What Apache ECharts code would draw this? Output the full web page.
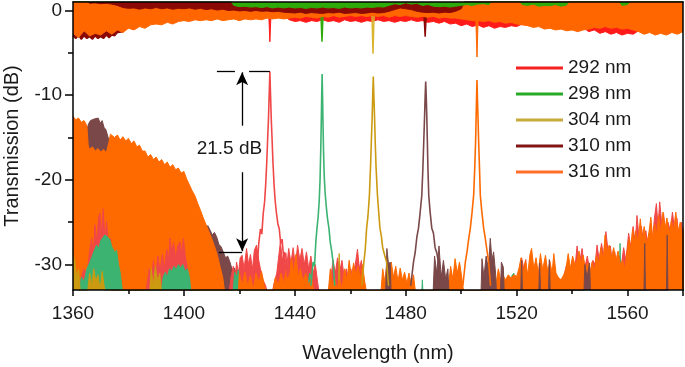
<!DOCTYPE html>
<html>
<head>
<meta charset="utf-8">
<script src="https://cdn.jsdelivr.net/npm/echarts@6/dist/echarts.min.js"></script>
<style>
  html, body { margin: 0; padding: 0; background: #fff; }
  #main { width: 685px; height: 367px; }
</style>
</head>
<body>
<div id="main"></div>
<script>
// legend names (ring diameters)
var names = ['292 nm', '298 nm', '304 nm', '310 nm', '316 nm'];

// ---- through port (top), lower edge of the noisy trace, [nm, dB] ----
var redThru = [[1360,-0.5],[1430.6,-0.5],[1431.0,-3.7],[1431.4,-0.5],[1436,-0.6],[1438,-1.1],[1440,-1.3],[1442,-1.2],[1444,-1.4],[1446,-1.2],[1448,-1.3],[1450,-1.1],[1452,-1.3],[1454,-1.2],[1456,-1.4],[1458,-1.1],[1460,-1.3],[1462,-1.2],[1464,-1.4],[1466,-1.2],[1468,-1.3],[1470,-1.1],[1472,-1.3],[1474,-1.2],[1476,-1.4],[1478,-1.2],[1480,-1.3],[1482,-1.1],[1484,-1.3],[1486,-1.2],[1488,-1.4],[1490,-1.3],[1492,-1.5],[1494,-1.3],[1496,-1.6],[1498,-1.5],[1500,-1.8],[1502,-1.6],[1504,-1.9],[1506,-1.7],[1508,-2.0],[1510,-1.8],[1512,-2.1],[1514,-1.9],[1516,-2.0],[1518,-1.8],[1520,-1.9],[1522,-1.6],[1544,-2.0],[1546,-2.5],[1548,-2.3],[1550,-2.7],[1552,-2.5],[1554,-2.8],[1556,-2.6],[1558,-2.9],[1560,-2.7],[1562,-2.8],[1564,-2.4],[1566,-2.0],[1580,-2.0]];
var greenThruDip = [[1360,-0.3],[1449.4,-0.3],[1449.8,-3.7],[1450.2,-0.3],[1580,-0.3]];
var goldThruDip = [[1360,-0.3],[1467.8,-0.3],[1468.2,-5.1],[1468.6,-0.3],[1580,-0.3]];
var darkThruLow = [[1360,-3.0],[1361,-3.3],[1362,-2.9],[1363,-3.4],[1364,-3.0],[1365,-3.3],[1366,-3.1],[1367,-3.4],[1368,-3.0],[1369,-3.3],[1370,-3.1],[1371,-3.3],[1372,-2.9],[1373,-3.2],[1374,-2.9],[1375,-3.0],[1376,-2.6],[1378,-2.5],[1380,-0.5],[1486.6,-0.5],[1487.0,-3.1],[1487.4,-0.5],[1580,-0.5]];
var orangeThru = [[1360,-2.7],[1362,-3.2],[1364,-2.4],[1366,-3.0],[1368,-2.7],[1370,-2.9],[1372,-2.4],[1374,-2.8],[1376,-2.3],[1378,-2.6],[1380,-2.1],[1382,-2.3],[1384,-1.9],[1386,-2.1],[1388,-1.7],[1390,-1.6],[1392,-1.7],[1394,-1.4],[1396,-1.6],[1398,-1.3],[1400,-1.2],[1402,-1.3],[1404,-1.1],[1406,-1.2],[1408,-1.1],[1410,-1.2],[1412,-1.0],[1414,-1.2],[1416,-1.1],[1418,-1.0],[1420,-1.2],[1422,-1.0],[1424,-1.1],[1426,-1.0],[1428,-1.1],[1430,-0.9],[1432,-1.0],[1434,-0.9],[1436,-1.0],[1438,-0.9],[1440,-0.8],[1442,-0.9],[1444,-0.7],[1446,-0.8],[1448,-0.9],[1450,-0.7],[1452,-0.8],[1454,-0.6],[1456,-0.8],[1458,-0.7],[1460,-0.6],[1462,-0.7],[1464,-0.6],[1466,-0.7],[1468,-0.6],[1470,-0.7],[1472,-0.6],[1474,-0.8],[1476,-0.6],[1478,-0.7],[1480,-0.6],[1482,-0.7],[1484,-0.8],[1486,-0.7],[1488,-0.8],[1490,-0.7],[1492,-0.9],[1494,-0.8],[1496,-0.9],[1498,-0.9],[1500,-1.0],[1502,-1.1],[1504,-1.2],[1505.3,-1.2],[1505.7,-5.5],[1506.1,-1.2],[1508,-1.3],[1510,-1.2],[1512,-1.4],[1514,-1.3],[1516,-1.5],[1518,-1.4],[1520,-1.6],[1522,-1.7],[1524,-1.8],[1526,-2.0],[1528,-1.9],[1530,-2.2],[1532,-2.1],[1534,-2.3],[1536,-2.2],[1538,-2.4],[1540,-2.3],[1542,-2.5],[1544,-2.3],[1546,-2.2],[1548,-2.0],[1550,-2.1],[1552,-1.9],[1554,-2.1],[1556,-2.0],[1558,-2.2],[1560,-2.1],[1562,-2.3],[1564,-2.5],[1566,-2.8],[1568,-2.6],[1570,-2.9],[1572,-2.7],[1574,-2.9],[1576,-2.6],[1578,-2.8],[1580,-2.5]];
var darkThruTop = [[1360,1.5],[1364,1.5],[1366,0.85],[1368,0.9],[1370,0.8],[1372,0.85],[1374,0.75],[1376,0.6],[1378,0.35],[1380,0.25],[1382,0.3],[1384,0.15],[1386,0.3],[1388,0.2],[1390,0.35],[1392,0.2],[1394,0.3],[1396,0.15],[1398,0.25],[1400,0.2],[1402,0.3],[1404,0.15],[1406,0.25],[1408,0.1],[1410,0.2],[1412,0.05],[1414,0.15],[1416,0.0],[1418,0.05],[1420,-0.05],[1422,0.0],[1424,-0.1],[1426,0.0],[1428,-0.1],[1430,-0.05],[1432,-0.15],[1434,-0.1],[1436,-0.2],[1438,-0.25],[1440,-0.3],[1442,-0.2],[1444,-0.35],[1446,-0.25],[1448,-0.3],[1450,-0.35],[1452,-0.25],[1454,-0.3],[1456,-0.2],[1458,-0.35],[1460,-0.3],[1462,-0.25],[1464,-0.35],[1466,-0.3],[1468,-0.2],[1470,-0.3],[1472,-0.25],[1474,-0.1],[1476,0.1],[1478,0.3],[1480,0.2],[1482,0.1],[1484,-0.1],[1486,-0.2],[1488,-0.25],[1490,-0.2],[1492,-0.3],[1494,-0.2],[1496,-0.25],[1498,-0.1],[1500,0.2],[1502,1.5],[1580,1.5]];
var greenThruTop = [[1360,1.5],[1416,1.5],[1418,0.6],[1420,0.45],[1422,0.5],[1424,0.4],[1426,0.45],[1428,0.35],[1430,0.45],[1432,0.3],[1434,0.4],[1436,0.3],[1438,0.4],[1440,0.3],[1442,0.35],[1444,0.25],[1446,0.35],[1448,0.3],[1450,0.4],[1452,0.3],[1454,0.35],[1456,0.25],[1458,0.4],[1460,0.3],[1462,0.35],[1464,0.3],[1466,0.4],[1468,0.35],[1470,0.45],[1472,0.4],[1474,0.6],[1476,0.8],[1478,0.7],[1480,0.9],[1482,0.75],[1484,0.85],[1486,0.6],[1488,0.7],[1490,0.5],[1492,0.45],[1494,0.5],[1496,0.4],[1498,0.5],[1500,0.6],[1502,0.7],[1504,0.6],[1506,0.75],[1508,0.8],[1510,0.7],[1512,1.5],[1520,1.5],[1522,0.7],[1524,0.6],[1526,0.75],[1528,0.5],[1530,0.6],[1532,0.55],[1534,0.7],[1536,0.5],[1538,0.65],[1540,1.5],[1556,1.5],[1558,0.6],[1560,0.7],[1562,1.5],[1580,1.5]];

// ---- drop port (bottom), [nm, dB] ----
var brownLeft = [[1364.5,-34],[1364.9,-14.2],[1365.6,-13.4],[1366.3,-13.0],[1367,-13.2],[1367.7,-12.8],[1368.4,-12.9],[1369.1,-12.7],[1369.8,-13.3],[1370.5,-13.0],[1371.2,-13.8],[1371.9,-14.1],[1372.6,-14.9],[1373.3,-15.6],[1374,-34],[1405.8,-34],[1406.3,-25.2],[1407,-25.35],[1407.8,-25.8],[1408.6,-25.4],[1409.4,-25.9],[1410.2,-26.5],[1411,-26.2],[1411.8,-26.7],[1412.6,-27.6],[1413.4,-27.9],[1414.2,-28.5],[1415,-29.2],[1415.8,-29],[1416.6,-29.7],[1417.4,-30.6],[1418.2,-30.4],[1419,-31.2],[1419.8,-31.8],[1420.6,-32.1],[1421.4,-32.4],[1422.2,-33.2],[1423,-34]];
var orangeLeft = [[1360,-12.5],[1361,-12.9],[1362,-12.7],[1363,-13.2],[1364,-13.0],[1365,-13.6],[1365.5,-16.0],[1366,-16.4],[1367,-16.1],[1368,-16.6],[1369,-16.3],[1370,-16.7],[1371,-16.4],[1372,-16.8],[1373,-15.5],[1373.5,-14.6],[1374,-14.4],[1375,-15.0],[1376,-14.7],[1377,-15.3],[1378,-14.9],[1379,-15.4],[1380,-15.1],[1381,-15.7],[1382,-15.4],[1383,-16.1],[1384,-15.9],[1385,-16.6],[1386,-16.6],[1387,-17.3],[1388,-17.0],[1389,-17.6],[1390,-17.3],[1391,-17.9],[1392,-17.6],[1393,-18.2],[1394,-17.9],[1395,-18.5],[1396,-18.2],[1397,-18.8],[1398,-18.6],[1399,-19.2],[1400,-19.0],[1401,-19.9],[1402,-20.6],[1403,-21.3],[1404,-21.9],[1405,-22.8],[1406,-23.6],[1407,-24.5],[1408,-25.3],[1409,-26.1],[1410,-26.9],[1411,-27.8],[1412,-28.8],[1413,-30.2],[1414,-31.5],[1415,-34]];
var redNoise = [[1362,-34],[1363,-31.5],[1364,-30.5],[1365,-31.2],[1366,-28.5],[1366.7,-26.9],[1367.3,-29],[1367.9,-25.3],[1368.6,-27.5],[1369.2,-24.5],[1369.7,-23.9],[1370.2,-26.5],[1370.9,-23.4],[1371.5,-27],[1372.1,-24.9],[1372.8,-27.5],[1373.5,-26.9],[1374.2,-29],[1375,-30.5],[1376,-34],
  [1386,-34],[1387.5,-30.5],[1388.3,-31.8],[1389,-29.5],[1389.8,-31.5],[1390.6,-29],[1391.4,-30.8],[1392.2,-28.8],[1393,-30.5],[1393.8,-28.2],[1394.5,-29.5],[1395,-26.9],[1395.6,-28.5],[1396.3,-27.4],[1397,-29.2],[1397.8,-27.8],[1398.6,-27.3],[1399.2,-28.8],[1399.8,-26.9],[1400.5,-29],[1401.3,-30.5],[1402,-32],[1403,-34],
  [1416,-34],[1417,-31.5],[1417.8,-30.2],[1418.5,-31.5],[1419,-29.7],[1419.7,-31],[1420.3,-29.2],[1421,-28.9],[1421.7,-30.5],[1422.6,-28.1],[1423.3,-30],[1424,-28.8],[1424.7,-30.6],[1425.4,-28.3],[1426.2,-27.7],[1427,-29.5],[1427.6,-30.5],[1428.5,-31.8],[1429.5,-32.5],[1430.5,-34],[1431.5,-34],[1432.5,-32.2],[1433.5,-31],[1434.2,-29],[1434.8,-27.3],[1435.5,-29.5],[1436.2,-28.5],[1437,-30.5],[1437.8,-28.1],[1438.6,-29.8],[1439.4,-28],[1440.2,-30.2],[1441,-27.7],[1441.8,-29.5],[1442.6,-28.1],[1443.4,-30],[1444.2,-28.5],[1445,-30.5],[1445.8,-29],[1446.6,-31],[1447.4,-30],[1448.2,-32],[1449,-34],
  [1452,-34],[1453,-31.5],[1453.8,-29.5],[1454.6,-31],[1455.4,-29.2],[1456.2,-30.8],[1457,-29.5],[1457.8,-31.5],[1458.6,-30.5],[1459.4,-32],[1460.2,-30.5],[1461,-31.8],[1461.8,-30],[1462.6,-28.2],[1463.3,-30.5],[1464,-29.5],[1464.8,-32],[1465.5,-34],
  [1520.8,-34],[1521.8,-29.2],[1522.6,-30.5],[1523.3,-29.4],[1524,-34],
  [1536,-34],[1537,-31.5],[1538,-30],[1539,-31.5],[1540,-29.5],[1541,-30.5],[1541.8,-27.8],[1542.6,-30],[1543.6,-28.1],[1544.5,-30.5],[1545.5,-29],[1546.5,-31],[1547.5,-29.5],[1548.3,-30],[1549,-27.7],[1549.8,-29.5],[1550.6,-27.5],[1551.4,-29],[1552.2,-26.1],[1553,-28.5],[1553.8,-27.8],[1554.6,-30],[1555.4,-28.5],[1556.2,-30.5],[1557,-29],[1557.8,-30],[1558.6,-28],[1559.4,-29.5],[1560.4,-26.3],[1561.2,-28],[1562,-25.5],[1562.8,-27.5],[1563.4,-24.2],[1564.2,-27],[1565,-25.5],[1565.8,-27.5],[1566.6,-26],[1567.4,-28],[1568.2,-26.5],[1569,-27],[1569.7,-24.5],[1570.4,-22.8],[1571,-25.5],[1571.6,-22.6],[1572.3,-25],[1573,-24],[1573.8,-26.5],[1574.6,-25],[1575.4,-26],[1576.2,-23.8],[1577,-26],[1577.8,-24.5],[1578.6,-27],[1579.4,-25],[1580.2,-26.9]];
var greenNoise = [[1362,-34],[1363,-31.5],[1364,-32],[1365,-30.5],[1366,-29.8],[1366.7,-29.2],[1367.5,-28.5],[1368.5,-27.7],[1369.3,-28.1],[1370,-27.2],[1370.8,-26.8],[1371.5,-26.5],[1372,-26.3],[1372.7,-26.8],[1373.3,-27.1],[1374,-27.9],[1374.5,-28.1],[1375.1,-28.6],[1375.7,-28.3],[1376.4,-30],[1377,-30.9],[1377.6,-32.5],[1378.2,-34],
  [1391.5,-34],[1392.5,-31.5],[1393.3,-30.9],[1394,-31.5],[1394.8,-30.5],[1395.6,-30.8],[1396.4,-30.2],[1397.2,-30.6],[1398,-30],[1398.8,-30.4],[1399.6,-30],[1400.4,-30.8],[1401.2,-30.5],[1402,-31.5],[1402.8,-34],
  [1417.5,-34],[1418.3,-30.9],[1419,-31.5],[1419.6,-30.6],[1420.3,-34],
  [1444.5,-34],[1445.3,-31],[1446,-31.5],[1446.5,-34],
  [1476.3,-34],[1476.7,-31.3],[1477.1,-34],[1485.7,-34],[1486,-31.8],[1486.3,-34],
  [1517.8,-34],[1518.3,-31.3],[1519,-31],[1519.5,-34],[1537.6,-34],[1538,-30],[1538.4,-34],
  [1545,-34],[1545.3,-30.5],[1545.6,-34],[1556.9,-34],[1557.3,-27.5],[1557.7,-34],
  [1567.2,-34],[1567.6,-26.3],[1568,-34]];
var goldNoise = [[1360,-28.7],[1360.7,-29.7],[1361.3,-31.5],[1362,-30.5],[1362.7,-33.5],[1365,-34],[1366,-31],[1366.8,-32.5],[1367.5,-30.5],[1368.2,-32],[1369,-31.2],[1369.8,-33],[1370.5,-30.8],[1371.2,-32.5],[1372,-34],
  [1387.5,-34],[1388.2,-30.5],[1389,-32.5],[1389.7,-30.2],[1390.5,-32],[1391.3,-31],[1392,-33.5],[1393,-34],
  [1455.6,-34],[1456,-28.7],[1456.4,-34],[1539.1,-34],[1539.5,-31],[1539.9,-34]];
var orangeNoise = [[1419.5,-34],[1420,-31],[1421,-32.5],[1422,-30.9],[1423,-32.5],[1424,-31.3],[1425,-33],[1426,-31],[1427,-32.2],[1428,-30.8],[1429,-32.5],[1430,-33.5],[1432,-33.5],[1433,-31.5],[1434,-32.5],[1435,-31],[1436,-32.2],[1437,-30.5],[1438,-31.8],[1438.8,-29.2],[1439.6,-31],[1440.4,-28.8],[1441.2,-31.5],[1442,-30.5],[1443,-32],[1444,-31],[1445,-32.5],[1446,-31.5],[1447,-33.5],
  [1452,-33.5],[1452.8,-30.5],[1453.6,-32.5],[1454.4,-31.5],[1455.2,-33],[1456,-31.8],[1457,-32.8],[1458,-30.5],[1458.8,-32],[1459.6,-29.5],[1460.4,-31.5],[1461.2,-29.8],[1462,-31.2],[1462.8,-30.2],[1463.6,-31.7],[1464.4,-30],[1465.2,-32],[1466,-33.5],
  [1471,-33.5],[1471.7,-30.5],[1472.4,-32],[1473.2,-30],[1474,-31.5],[1474.8,-29.7],[1475.6,-31.5],[1476.4,-30.2],[1477.2,-32],[1478,-30.4],[1478.8,-31.8],[1479.6,-30.9],[1480.4,-32.2],[1481.2,-31],[1482,-32.5],[1482.8,-31.2],[1483.6,-33.5],
  [1490.5,-33.5],[1491.3,-32],[1492.2,-32.8],[1493,-31.6],[1493.8,-32.5],[1494.6,-31.5],[1495.4,-32.5],[1496.2,-30.2],[1497,-31.7],[1497.8,-29.3],[1498.6,-31],[1499.4,-29.7],[1500.2,-31.5],[1501,-33.5],
  [1511,-33.5],[1511.8,-31],[1512.6,-32.2],[1513.4,-30.5],[1514.2,-31.8],[1515,-31.2],[1516,-31.8],[1517,-31.2],[1518,-31.6],[1519,-31.2],[1520,-31.4],[1520.8,-30.5],[1521.6,-29.2],[1522.4,-31],[1523.2,-29.5],[1524,-31.2],[1524.8,-28.8],[1525.4,-28.1],[1526.2,-30.5],[1527,-29.2],[1527.8,-31],[1528.6,-28.7],[1529.4,-30.6],[1530.4,-28.9],[1531.2,-30.8],[1532,-29.6],[1532.8,-31],[1533.4,-28.7],[1534.2,-31],[1535,-31.5],[1536,-31.8],[1537,-31.2],[1537.8,-30.5],[1538.6,-28.7],[1539.4,-30.5],[1540.2,-29],[1541,-30],[1541.8,-29.5],[1542.5,-28.4],[1543.2,-30],[1544,-28.9],[1544.8,-30.5],[1545.6,-29.8],[1546.4,-31.2],[1547.2,-29.7],[1548,-30.8],[1548.8,-28.9],[1549.6,-29.8],[1550.4,-28],[1551.2,-29.5],[1551.9,-26.5],[1552.6,-28.5],[1553.4,-27.7],[1554.2,-29.2],[1555,-28],[1555.8,-29.5],[1556.6,-28.4],[1557.4,-30],[1558.2,-29.5],[1559,-30.5],[1559.8,-28.5],[1560.6,-27],[1561.2,-28.2],[1561.8,-25.8],[1562.4,-27.5],[1563,-26],[1563.8,-27.5],[1564.6,-24.6],[1565.3,-27],[1566,-25.5],[1566.8,-27.5],[1567.6,-26.5],[1568.4,-24.4],[1569.1,-27],[1569.8,-25.2],[1570.5,-26.5],[1571.2,-24.2],[1572,-26.2],[1572.8,-23.8],[1573.5,-25.8],[1574.2,-24.5],[1575,-26.5],[1575.8,-24.8],[1576.6,-26],[1577.4,-23.8],[1578.2,-26.2],[1579,-25],[1579.8,-26.9],[1580.5,-25.5]];
var brownRight = [[1472.7,-34],[1473.2,-28.1],[1473.8,-30],[1474.4,-29.7],[1474.8,-34],
  [1489.8,-34],[1490.4,-29],[1491.2,-31],[1492,-27.8],[1492.8,-31.5],[1493.6,-29.5],[1494.4,-31.7],[1495.2,-30.5],[1495.7,-34],
  [1507.1,-34],[1507.5,-29.3],[1508.2,-31.5],[1509,-29],[1509.8,-30.5],[1510.5,-26.9],[1511.1,-29.5],[1511.7,-28.5],[1512.4,-31],[1512.8,-34],
  [1514.1,-34],[1514.5,-29.7],[1515.2,-30.3],[1515.6,-34],[1521.4,-34],[1521.8,-29.5],[1522.2,-34],
  [1527.9,-34],[1528.3,-29.8],[1528.7,-34],[1531.4,-34],[1531.8,-29.4],[1532.2,-34],
  [1544.2,-34],[1544.6,-30],[1545.4,-31.5],[1546.3,-29.8],[1546.7,-34],
  [1565.9,-34],[1566.2,-27.5],[1566.5,-34],[1574,-34],[1574.3,-26.5],[1574.6,-34]];

// resonance peaks in the drop port
var redPeak = [[1425,-31.5],[1425.8,-29.8],[1426.4,-30.4],[1427,-27.5],[1427.6,-25.8],[1428.1,-26.4],[1428.6,-24],[1429.1,-22.6],[1429.5,-20.5],[1429.9,-17.8],[1430.2,-15.2],[1430.5,-12.8],[1430.75,-10],[1431,-7.2],[1431.25,-10],[1431.5,-12.8],[1431.8,-15.2],[1432.1,-17.8],[1432.5,-20.5],[1432.9,-22.4],[1433.4,-24],[1433.9,-25.2],[1434.4,-25.8],[1434.9,-27.5],[1435.4,-27],[1436,-29.3],[1436.7,-28.6],[1437.4,-31.5]];
var greenPeak = [[1445.8,-32.5],[1446.6,-29.7],[1447.1,-30.2],[1447.6,-27.2],[1448,-25.7],[1448.4,-24.4],[1448.8,-22.5],[1449.1,-20],[1449.35,-16.5],[1449.55,-13],[1449.7,-10],[1449.85,-7.5],[1450.0,-10],[1450.15,-13],[1450.35,-16.5],[1450.6,-19.5],[1450.9,-21.4],[1451.3,-23],[1451.8,-24.6],[1452.3,-25.7],[1452.8,-27.4],[1453.3,-28.4],[1453.8,-29.7],[1454.4,-32.5]];
var goldPeak = [[1464.2,-32.5],[1464.9,-29.7],[1465.4,-28.2],[1465.9,-25.7],[1466.4,-24.2],[1466.9,-21.8],[1467.3,-18.5],[1467.6,-15.5],[1467.9,-12.5],[1468.1,-10],[1468.3,-7.8],[1468.5,-10],[1468.75,-12.5],[1469,-15.5],[1469.3,-18.5],[1469.8,-21.8],[1470.2,-23.6],[1470.7,-25.7],[1471.2,-26.6],[1471.7,-28],[1472.4,-28.9],[1473.1,-29.7],[1473.8,-32.5]];
var brownPeak = [[1481.8,-32.5],[1482.8,-29.7],[1483.4,-28.6],[1484,-26.8],[1484.6,-25.7],[1485.1,-24.2],[1485.8,-21.8],[1486.2,-18.5],[1486.5,-15.5],[1486.8,-12.5],[1487,-10.2],[1487.2,-8.4],[1487.4,-10.2],[1487.6,-12.5],[1487.8,-15.5],[1488,-18.5],[1488.3,-21.8],[1488.8,-23.8],[1489.4,-25.7],[1490,-26.3],[1490.6,-28],[1491.2,-28.6],[1491.8,-29.7],[1492.6,-32.5]];
var orangePeak = [[1500.6,-32.5],[1501.5,-29.7],[1502.1,-28.5],[1502.7,-27],[1503.3,-25.7],[1503.9,-23.9],[1504.5,-21.8],[1504.9,-18.5],[1505.2,-15.5],[1505.4,-12.5],[1505.55,-10.2],[1505.7,-8.2],[1505.85,-10.2],[1506.05,-12.5],[1506.3,-15.5],[1506.6,-18.5],[1506.9,-21.8],[1507.4,-23.6],[1508.1,-25.7],[1508.6,-26.7],[1509.2,-28.1],[1509.9,-29.7],[1510.6,-32.5]];

var yLabels = [-30, -20, -10, 0];
var yMinor = [-25, -15, -5];

var legendColors = ['#f52020', '#28aa28', '#c8aa3c', '#821414', '#ff6e28'];
var thruColors = ['#ff1a1a', '#2eaa0a', '#d9b530', '#8c0a05', '#ff6600'];
var dropColors = ['#f04848', '#3cb371', '#cc9a10', '#7a4848', '#ff6a00'];

var font = 'Liberation Sans, Arial, sans-serif';
var black = '#000';
var textColor = '#1a1a1a';

function trace(name, color, data, origin, width) {
  var s = {
    type: 'line', name: name, data: data, symbol: 'none', silent: true,
    lineStyle: { color: color, width: width || 1 },
    itemStyle: { color: color }
  };
  if (origin) s.areaStyle = { color: color, opacity: 1, origin: origin };
  return s;
}

var redPeakSeries = trace(names[0], dropColors[0], redPeak, null, 1.6);
redPeakSeries.markLine = {
  silent: true, z: 60, symbol: ['none', 'none'], label: { show: false },
  lineStyle: { color: black, width: 1.3, type: 'solid' },
  emphasis: { disabled: true },
  data: [
    [{ coord: [1411.9, -7.17] }, { coord: [1418.4, -7.17] }],
    [{ coord: [1423.5, -7.17] }, { coord: [1431, -7.17] }],
    [{ coord: [1412.6, -28.55] }, { coord: [1421, -28.55] }],
    [{ coord: [1421, -13.6] }, { coord: [1421, -7.3], symbol: 'arrow', symbolSize: [9, 13] }],
    [{ coord: [1421, -19.1] }, { coord: [1421, -28.42], symbol: 'arrow', symbolSize: [9, 13] }]
  ]
};
redPeakSeries.markPoint = {
  silent: true, z: 60, symbol: 'rect', symbolSize: 1,
  itemStyle: { color: 'rgba(0,0,0,0)' },
  label: { show: true, position: 'inside', formatter: '21.5 dB', fontSize: 19, color: textColor, fontFamily: font },
  data: [{ coord: [1416.4, -16.3] }]
};

var series = [
  // through port
  trace(names[0], thruColors[0], redThru, 'end'),
  trace(names[2], thruColors[2], goldThruDip, null, 1.5),
  trace(names[1], thruColors[1], greenThruDip, null, 1.5),
  trace(names[3], thruColors[3], darkThruLow, 'end', 1.5),
  trace(names[4], thruColors[4], orangeThru, 'end'),
  trace(names[3], thruColors[3], darkThruTop, 'end'),
  trace(names[1], thruColors[1], greenThruTop, 'end'),
  // drop port noise
  trace(names[3], dropColors[3], brownLeft, 'start'),
  trace(names[4], dropColors[4], orangeLeft, 'start'),
  trace(names[0], dropColors[0], redNoise, 'start'),
  trace(names[1], dropColors[1], greenNoise, 'start'),
  trace(names[2], dropColors[2], goldNoise, 'start'),
  trace(names[4], dropColors[4], orangeNoise, 'start'),
  trace(names[3], dropColors[3], brownRight, 'start'),
  // drop port peaks
  redPeakSeries,
  trace(names[1], dropColors[1], greenPeak, null, 1.6),
  trace(names[2], dropColors[2], goldPeak, null, 1.6),
  trace(names[3], dropColors[3], brownPeak, null, 1.6),
  trace(names[4], dropColors[4], orangePeak, null, 1.6)
];
// keep each trace (line and fill) in its own layer, in list order
series.forEach(function (s, i) { s.z = 2 + i; });

var axisLineStyle = { color: black, width: 1.5 };

var option = {
  animation: false,
  textStyle: { fontFamily: font },
  grid: { left: 73, right: 2, top: 2, bottom: 77, containLabel: false, outerBoundsMode: 'none' },
  legend: {
    orient: 'vertical', left: 516, top: 58, padding: 0, icon: 'rect',
    itemWidth: 47, itemHeight: 3, itemGap: 6, selectedMode: false,
    textStyle: { fontSize: 19, color: textColor, lineHeight: 20, fontFamily: font },
    data: names.map(function (n, i) { return { name: n, itemStyle: { color: legendColors[i] } }; })
  },
  xAxis: [{
    type: 'value', min: 1360, max: 1580, interval: 40, position: 'bottom', z: 50,
    axisLine: { onZero: false, lineStyle: axisLineStyle },
    axisTick: { length: 6, lineStyle: axisLineStyle },
    minorTick: { show: true, splitNumber: 2, length: 4, lineStyle: axisLineStyle },
    axisLabel: { color: textColor, fontSize: 19, margin: 14, showMaxLabel: false,
      formatter: function (v) { return String(v); } },
    splitLine: { show: false }, minorSplitLine: { show: false },
    name: 'Wavelength (nm)', nameLocation: 'middle', nameGap: 53,
    nameTextStyle: { fontSize: 20, color: textColor }
  }, {
    type: 'value', min: 1360, max: 1580, position: 'top', z: 50,
    axisLine: { show: true, onZero: false, lineStyle: axisLineStyle },
    axisTick: { show: false }, axisLabel: { show: false }, splitLine: { show: false }
  }],
  yAxis: [{
    type: 'value', min: -33, max: 1, position: 'left', z: 50,
    axisLine: { show: true, onZero: false, lineStyle: axisLineStyle },
    axisTick: { show: true, length: 8, customValues: yLabels, lineStyle: axisLineStyle },
    axisLabel: { customValues: yLabels, color: textColor, fontSize: 19, margin: 11 },
    splitLine: { show: false },
    name: 'Transmission (dB)', nameLocation: 'middle', nameGap: 51,
    nameTextStyle: { fontSize: 20, color: textColor }
  }, {
    type: 'value', min: -33, max: 1, position: 'left', z: 50,
    axisLine: { show: false, onZero: false },
    axisTick: { show: true, length: 5, customValues: yMinor, lineStyle: axisLineStyle },
    axisLabel: { show: false }, splitLine: { show: false }
  }, {
    type: 'value', min: -33, max: 1, position: 'right', z: 50,
    axisLine: { show: true, onZero: false, lineStyle: axisLineStyle },
    axisTick: { show: false }, axisLabel: { show: false }, splitLine: { show: false }
  }],
  series: series
};

var myChart = echarts.init(document.getElementById('main'));
myChart.setOption(option);
</script>
</body>
</html>
